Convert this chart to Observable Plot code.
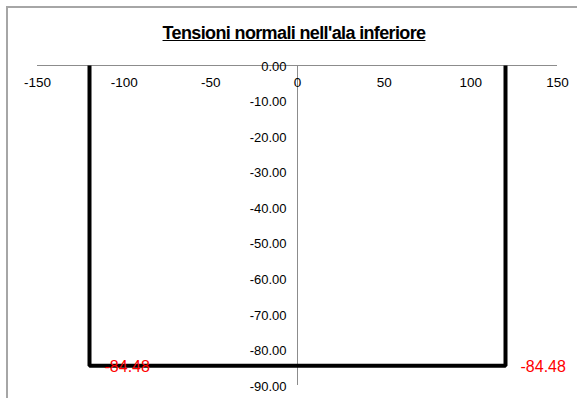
<!DOCTYPE html>
<html>
<head>
<meta charset="utf-8">
<script src="https://cdn.jsdelivr.net/npm/d3@7"></script>
<script src="https://cdn.jsdelivr.net/npm/@observablehq/plot@0.6"></script>
<style>
  html, body { margin: 0; padding: 0; background: #fff; }
  #wrap { position: relative; width: 577px; height: 398px; overflow: hidden; background: #fff; }
  #frame { position: absolute; left: 6px; top: 6px; width: 600px; height: 420px;
           border-left: 2px solid #a6a6a6; border-top: 2px solid #a6a6a6; box-sizing: border-box; }
  #title { position: absolute; left: 0; top: 24px; width: 588px; text-align: center;
           font-family: "Liberation Sans", Arial, sans-serif; font-weight: bold;
           font-size: 18px; line-height: 1; letter-spacing: -0.63px;
           text-decoration: underline; color: #000; }
  #chart { position: absolute; left: 0; top: 0; }
  g[aria-label="x-ticks"] text { letter-spacing: -1px; }
  g[aria-label="y-ticks"] text { letter-spacing: -1.15px; }
  g[aria-label="value-labels"] text { letter-spacing: -0.9px; }
</style>
</head>
<body>
<div id="wrap">
  <div id="frame"></div>
  <div id="title">Tensioni normali nell'ala inferiore</div>
  <div id="chart"></div>
</div>
<script>
// Data
const positions = [-120, -120, 120, 120];
const stresses = [0, -84.48, -84.48, 0];
const labelPositions = [-120, 120];
const labelValues = [-84.48, -84.48];
const xTicks = [-150, -100, -50, 0, 50, 100, 150];
const yTicks = [0, -10, -20, -30, -40, -50, -60, -70, -80, -90];

const shape = positions.map((x, i) => ({x, y: stresses[i]}));
const labels = labelPositions.map((x, i) => ({x, y: labelValues[i]}));

const font = '"Liberation Sans", Arial, sans-serif';

const chart = Plot.plot({
  width: 577,
  height: 398,
  marginLeft: 37,
  marginRight: 20,
  marginTop: 65,
  marginBottom: 13,
  style: {fontFamily: font, background: "transparent", overflow: "visible"},
  x: {domain: [-150, 150], axis: null},
  y: {domain: [-90, 0], axis: null},
  marks: [
    Plot.ruleY([0], {x1: -150, x2: 150, stroke: "#8c8c8c", strokeWidth: 1}),
    Plot.ruleX([0], {y1: 0, y2: -90, stroke: "#8c8c8c", strokeWidth: 1}),
    Plot.text(xTicks, {ariaLabel: "x-ticks", x: d => d, y: 0, text: d => String(d), dy: 17, fontSize: 13.5, fill: "#000"}),
    Plot.text(yTicks, {ariaLabel: "y-ticks", x: 0, y: d => d, text: d => d.toFixed(2), dx: -11, dy: 1, textAnchor: "end", fontSize: 13, fill: "#000"}),
    Plot.line(shape, {x: "x", y: "y", stroke: "#000", strokeWidth: 4, strokeLinejoin: "miter", strokeLinecap: "butt"}),
    Plot.text(labels, {ariaLabel: "value-labels", x: "x", y: "y", text: d => d.y.toFixed(2), dx: 15, dy: 1, textAnchor: "start", fontSize: 16, fill: "#ff0000"})
  ]
});
document.getElementById("chart").appendChild(chart);
</script>
</body>
</html>
